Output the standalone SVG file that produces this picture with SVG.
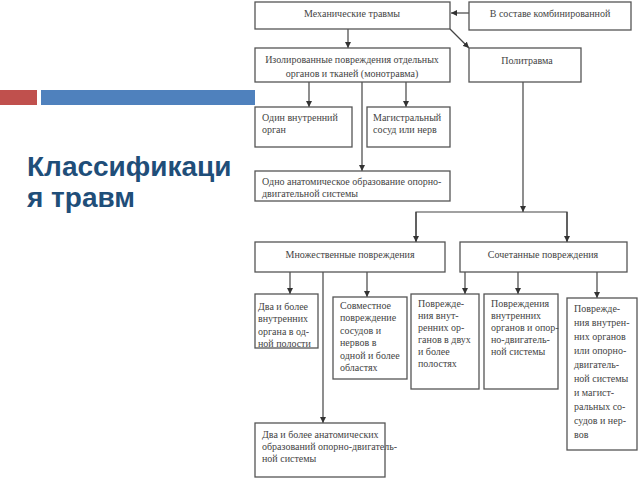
<svg xmlns="http://www.w3.org/2000/svg" width="640" height="480" viewBox="0 0 640 480">
<style>
.box{fill:#fff;stroke:#555;stroke-width:1.3}
.t{font-family:'Liberation Serif','DejaVu Serif',serif;font-size:10px;fill:#444}
.c{text-anchor:middle}
.ln{stroke:#444;stroke-width:1.2;fill:none}
.title{font-family:'Liberation Sans',Arial,sans-serif;font-weight:bold;font-size:28px;fill:#1F4E79}
</style>
<defs>
<marker id="ah" viewBox="0 0 8 8" refX="8" refY="4" markerWidth="6" markerHeight="6" markerUnits="userSpaceOnUse" orient="auto">
<path d="M0,0 L8,4 L0,8 z" fill="#333"/>
</marker>
</defs>
<rect width="640" height="480" fill="#fff"/>
<g id="decor">
<rect x="0" y="90" width="37" height="15" fill="#C0504D"/>
<rect x="41" y="90" width="214" height="15" fill="#4F81BD"/>
<text class="title" x="27" y="176">Классификаци</text>
<text class="title" x="27" y="207">я травм</text>
</g>
<g id="connectors">
<line class="ln" x1="469" y1="13" x2="451" y2="13" marker-end="url(#ah)"/>
<line class="ln" x1="348" y1="29" x2="348" y2="48" marker-end="url(#ah)"/>
<line class="ln" x1="450" y1="29" x2="469" y2="48" marker-end="url(#ah)"/>
<line class="ln" x1="309" y1="82" x2="309" y2="107" marker-end="url(#ah)"/>
<line class="ln" x1="362" y1="82" x2="362" y2="171" marker-end="url(#ah)"/>
<line class="ln" x1="406" y1="82" x2="406" y2="107" marker-end="url(#ah)"/>
<line class="ln" x1="523" y1="82" x2="523" y2="212" marker-end="url(#ah)"/>
<polyline class="ln" points="416,242 416,212 567,212 567,242"/>
<line class="ln" x1="416" y1="212" x2="416" y2="242" marker-end="url(#ah)"/>
<line class="ln" x1="567" y1="212" x2="567" y2="242" marker-end="url(#ah)"/>
<line class="ln" x1="290" y1="272" x2="290" y2="294" marker-end="url(#ah)"/>
<line class="ln" x1="323" y1="272" x2="323" y2="423" marker-end="url(#ah)"/>
<line class="ln" x1="367" y1="272" x2="367" y2="297" marker-end="url(#ah)"/>
<line class="ln" x1="465" y1="272" x2="465" y2="294" marker-end="url(#ah)"/>
<line class="ln" x1="518" y1="272" x2="518" y2="294" marker-end="url(#ah)"/>
<line class="ln" x1="597" y1="272" x2="597" y2="298" marker-end="url(#ah)"/>
</g>
<g id="mech">
<rect class="box" x="255" y="2" width="195" height="27"/>
<text class="t c" x="352" y="17">Механические травмы</text>
</g>
<g id="combined">
<rect class="box" x="469" y="2" width="162" height="28"/>
<text class="t c" x="550" y="17">В составе комбинированной</text>
</g>
<g id="isolated">
<rect class="box" x="255" y="48" width="195" height="34"/>
<text class="t c" x="352" y="63">Изолированные повреждения отдельных</text>
<text class="t c" x="352" y="77">органов и тканей (монотравма)</text>
</g>
<g id="polytrauma">
<rect class="box" x="469" y="48" width="112" height="34"/>
<text class="t c" x="527" y="64">Политравма</text>
</g>
<g id="organ">
<rect class="box" x="255" y="107" width="97" height="40"/>
<text class="t" x="262" y="121">Один внутренний</text>
<text class="t" x="262" y="133">орган</text>
</g>
<g id="vessel">
<rect class="box" x="367" y="107" width="83" height="40"/>
<text class="t" x="373" y="121">Магистральный</text>
<text class="t" x="373" y="133">сосуд или нерв</text>
</g>
<g id="anat">
<rect class="box" x="255" y="171" width="195" height="30"/>
<text class="t" x="262" y="185">Одно анатомическое образование опорно-</text>
<text class="t" x="262" y="197">двигательной системы</text>
</g>
<g id="multiple">
<rect class="box" x="255" y="242" width="190" height="30"/>
<text class="t c" x="350" y="258">Множественные повреждения</text>
</g>
<g id="combined2">
<rect class="box" x="460" y="242" width="167" height="30"/>
<text class="t c" x="543" y="258">Сочетанные повреждения</text>
</g>
<g id="m1">
<rect class="box" x="255" y="294" width="63" height="54"/>
<text class="t" x="258" y="310">Два и более</text>
<text class="t" x="258" y="322">внутренних</text>
<text class="t" x="258" y="335">органа в од-</text>
<text class="t" x="258" y="347">ной полости</text>
</g>
<g id="m2">
<rect class="box" x="333" y="297" width="74" height="82"/>
<text class="t" x="340" y="309">Совместное</text>
<text class="t" x="340" y="321">повреждение</text>
<text class="t" x="340" y="334">сосудов и</text>
<text class="t" x="340" y="346">нервов в</text>
<text class="t" x="340" y="359">одной и более</text>
<text class="t" x="340" y="371">областях</text>
</g>
<g id="s1">
<rect class="box" x="411" y="294" width="68" height="95"/>
<text class="t" x="418" y="307">Поврежде-</text>
<text class="t" x="418" y="319">ния внут-</text>
<text class="t" x="418" y="331">ренних ор-</text>
<text class="t" x="418" y="343">ганов в двух</text>
<text class="t" x="418" y="355">и более</text>
<text class="t" x="418" y="367">полостях</text>
</g>
<g id="s2">
<rect class="box" x="484" y="294" width="74" height="95"/>
<text class="t" x="491" y="307">Повреждения</text>
<text class="t" x="491" y="319">внутренних</text>
<text class="t" x="491" y="331">органов и опор-</text>
<text class="t" x="491" y="343">но-двигатель-</text>
<text class="t" x="491" y="355">ной системы</text>
</g>
<g id="s3">
<rect class="box" x="567" y="298" width="70" height="152"/>
<text class="t" x="574" y="312">Поврежде-</text>
<text class="t" x="574" y="326">ния внутрен-</text>
<text class="t" x="574" y="340">них органов</text>
<text class="t" x="574" y="354">или опорно-</text>
<text class="t" x="574" y="368">двигатель-</text>
<text class="t" x="574" y="382">ной системы</text>
<text class="t" x="574" y="396">и магист-</text>
<text class="t" x="574" y="410">ральных со-</text>
<text class="t" x="574" y="424">судов и нер-</text>
<text class="t" x="574" y="438">вов</text>
</g>
<g id="m3">
<rect class="box" x="255" y="423" width="130" height="54"/>
<text class="t" x="262" y="438">Два и более анатомических</text>
<text class="t" x="262" y="450">образований опорно-двигатель-</text>
<text class="t" x="262" y="462">ной системы</text>
</g>
</svg>
